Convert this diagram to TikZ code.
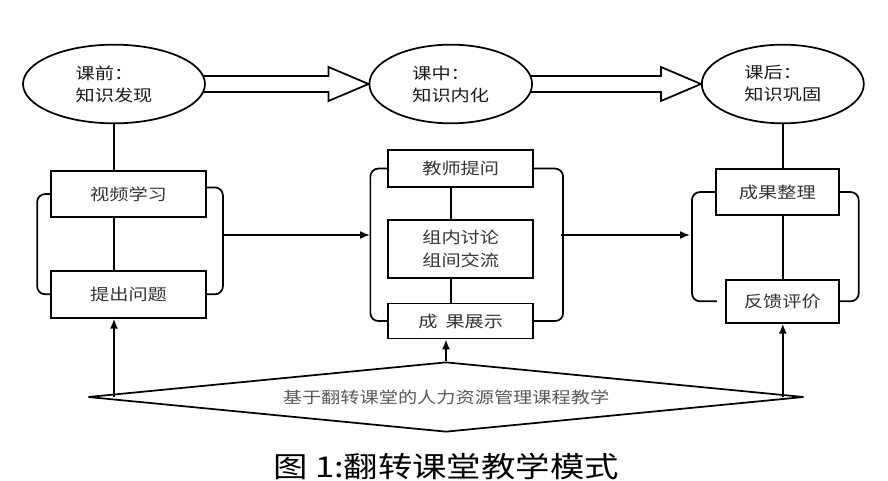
\documentclass[tikz,border=0pt]{standalone}
\usepackage{fontspec}
\setmainfont{Noto Sans CJK SC}[FakeStretch=1.2]
\usetikzlibrary{shapes.geometric,positioning,arrows.meta,calc}

\tikzset{
  phase/.style={ellipse, draw, line width=1.3pt, inner sep=0pt, minimum height=59pt,
    align=left, text=black!90, font=\fontsize{12}{16.5}\selectfont},
  task/.style={rectangle, draw, line width=1.3pt, inner sep=0pt, align=center,
    text=black!80, font=\fontsize{12}{17}\selectfont},
  bracket/.style={draw, line width=1.3pt, rounded corners=6pt},
  link/.style={draw, line width=1.3pt},
  push/.style={link, -{Latex[length=7.5pt,width=6pt]}},
  hollow/.style={draw, line width=1.3pt, line join=miter},
}

\begin{document}
\begin{tikzpicture}[x=0.75pt, y=-0.75pt]
  \useasboundingbox (0,0) rectangle (888,481);

  % Define nodes
  \node[phase, minimum width=136.5pt] (pre) at (114,84) {课前：\\知识发现};
  \node[phase, minimum width=122pt, right=122pt of pre] (mid) {课中：\\知识内化};
  \node[phase, minimum width=121.5pt, right=126pt of mid] (post) {课后：\\知识巩固};

  \node[task, minimum width=116.25pt, minimum height=34.5pt, below=34.5pt of pre, xshift=10.9pt] (v1) {视频学习};
  \node[task, minimum width=116.25pt, minimum height=35.25pt, below=39pt of v1] (v2) {提出问题};

  \node[task, minimum width=108.75pt, minimum height=27.75pt, below=18.75pt of mid, xshift=7.5pt] (q1) {教师提问};
  \node[task, minimum width=108.75pt, minimum height=43.5pt, below=23.25pt of q1] (q2) {组内讨论\\组间交流};
  \node[task, minimum width=108.75pt, minimum height=26.25pt, below=18pt of q2] (q3) {成\hspace{0.5em}果展示};

  \node[task, minimum width=92.25pt, minimum height=34.5pt, below=33pt of post, xshift=-4.1pt] (r1) {成果整理};
  \node[task, minimum width=84.75pt, minimum height=32.25pt, below=47.25pt of r1, xshift=3.75pt] (r2) {反馈评价};

  \node[diamond, draw, line width=1.3pt, aspect=10, inner sep=0pt, minimum width=537pt,
    minimum height=52.5pt, text=black!65, font=\fontsize{12}{14}\selectfont] (base) at (446,397) {基于翻转课堂的人力资源管理课程教学};
  \node[font=\fontsize{21.5}{25}\selectfont] (cap) at (446,467) {图 1:翻转课堂教学模式};

  \coordinate (o1) at (222,235);
  \coordinate (i2) at (370,235);
  \coordinate (o2) at (561,235);
  \coordinate (i3) at (690,235);

  % Big arrows between phases
  \foreach \a/\b in {pre/mid, mid/post}
    \draw[hollow] ($(\a.east)+(-2,-8)$) -- ($(\b.west)+(-40,-8)$) -- ++(0,-9) -- (\b.west)
      -- ++(-40,17) -- ++(0,-9) -- ($(\a.east)+(-2,8)$);

  % Connect the nodes
  \draw[link] (pre.south) -- (v1.north -| pre.south);
  \draw[link] (v1.south -| pre) -- (v2.north -| pre);
  \draw[link] (q1.south -| mid) -- (q2.north -| mid);
  \draw[link] (q2.south -| mid) -- (q3.north -| mid);
  \draw[link] (post.south) -- (r1.north -| post.south);
  \draw[link] (r1.south -| post) -- (r2.north -| post);

  % Brackets
  \draw[bracket] (v1.west) -- ++(-13,0) |- (v2.west);
  \draw[bracket] ([yshift=5pt]v1.east) -- ++(16,0) |- (v2.east);
  \draw[bracket] (q1.west) -- ++(-17,0) |- (q3.west);
  \draw[bracket] (q1.east) -- ++(29,0) |- (q3.east);
  \draw[bracket] (r1.west) -- ++(-23,0) |- ([xshift=-6pt]r2.west);
  \draw[bracket] (r1.east) -- ++(19,0) |- (r2.east);

  \draw[push] (o1) -- (i2);
  \draw[push] (o2) -- (i3);

  \draw[push] (base.west -| pre) -- (v2.south -| pre);
  \draw[push] (base.north) -- (q3.south -| base.north);
  \draw[push] (base.east -| post) -- (r2.south -| post);

\end{tikzpicture}
\end{document}
